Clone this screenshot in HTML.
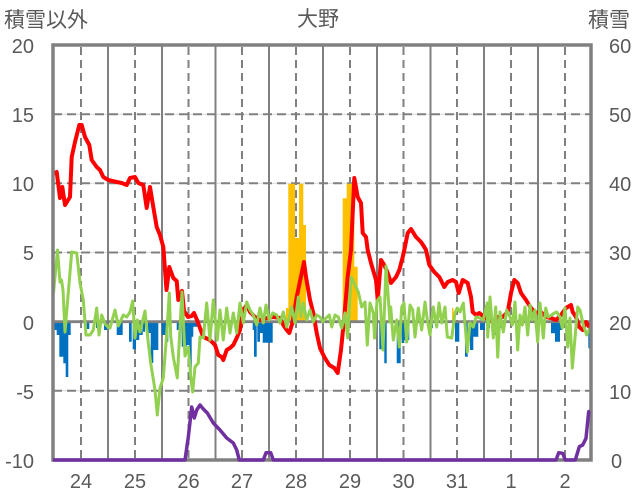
<!DOCTYPE html>
<html><head><meta charset="utf-8"><style>
html,body{margin:0;padding:0;background:#fff;}
svg{display:block;}
text{font-family:"Liberation Sans","Noto Sans CJK JP",sans-serif;fill:#595959;}
</style></head><body>
<svg width="636" height="501" viewBox="0 0 636 501" xmlns="http://www.w3.org/2000/svg">
<text x="4" y="27" font-size="21">積雪以外</text>
<text x="297" y="26" font-size="21">大野</text>
<text x="588" y="27" font-size="21">積雪</text>
<g font-size="20" text-anchor="end">
<text x="34" y="53">20</text><text x="34" y="122">15</text><text x="34" y="191">10</text>
<text x="34" y="260">5</text><text x="34" y="330">0</text><text x="34" y="399">-5</text><text x="34" y="468">-10</text>
</g>
<g font-size="20">
<text x="609" y="53">60</text><text x="609" y="122">50</text><text x="609" y="191">40</text>
<text x="609" y="260">30</text><text x="609" y="330">20</text><text x="609" y="399">10</text><text x="611" y="468">0</text>
</g>
<g font-size="20" text-anchor="middle">
<text x="81" y="488">24</text><text x="135" y="488">25</text><text x="188.5" y="488">26</text><text x="242" y="488">27</text><text x="296" y="488">28</text><text x="350" y="488">29</text><text x="403.5" y="488">30</text><text x="457" y="488">31</text><text x="511" y="488">1</text><text x="565" y="488">2</text>
</g>
<path d="M53 114.2H591M53 183.3H591M53 252.5H591M53 390.8H591" stroke="#d9d9d9" stroke-width="1" fill="none"/>
<path d="M53 114.2H591M53 183.3H591M53 252.5H591M53 390.8H591" stroke="#808080" stroke-width="2" stroke-dasharray="9 5" fill="none"/>
<path d="M108 45V460M162 45V460M215.5 45V460M269 45V460M323 45V460M377 45V460M430.5 45V460M484 45V460M538 45V460" stroke="#808080" stroke-width="2" fill="none"/>
<path d="M81 47V460M135 47V460M188.5 47V460M242 47V460M296 47V460M350 47V460M403.5 47V460M457 47V460M511 47V460M565 47V460" stroke="#808080" stroke-width="2" stroke-dasharray="8 5" fill="none"/>
<path fill="#FFC000" d="M286 321.7V308H288.3V183.7H295V238H299V183.7H303.3V225H306V321.7Z M342.7 321.7V198.3H346.7V183.7H354.3V266.7H357.7V321.7Z M452 321.7V308H453.5V321.7Z"/>
<path fill="#0070C0" d="M54 321.7V330H56.7V335H59.3V356.7H63.3V363.3H65.7V377H68.3V335H70.7V321.7Z M86.7 321.7V329H89.3V321.7Z M96 321.7V328H98.7V321.7Z M104 321.7V330H107V321.7Z M116.7 321.7V335H122.7V321.7Z M129 321.7V341.7H131.7V321.7Z M132.7 321.7V349.3H136V340H139.3V335H142.7V321.7Z M143 321.7V331.7H145V321.7Z M148 321.7V333H150.7V363H153.3V350H158.3V321.7Z M161.7 321.7V335H165V341.7H168.3V321.7Z M176.7 321.7V330H180V321.7Z M181.7 321.7V346.7H186.7V345H189.3V378H191.7V336.7H193.3V326.7H200V321.7Z M252.7 321.7V330H254V356.7H256.7V321.7Z M257.3 321.7V341.7H260V333H262.7V342.7H272.7V321.7Z M379.3 321.7V349.3H382.7V321.7Z M384.3 321.7V363.3H386.7V321.7Z M396.7 321.7V363.3H400.7V321.7Z M401.7 321.7V343H404.3V340H409.3V321.7Z M430 321.7V328H433V321.7Z M455 321.7V341.7H459.3V321.7Z M465 321.7V356.7H467.7V321.7Z M470 321.7V350H473.3V336.7H478.3V321.7Z M480 321.7V330H485V321.7Z M487.7 321.7V328H490V321.7Z M491.7 321.7V335H496V321.7Z M500 321.7V328H501.7V321.7Z M551 321.7V333.3H555V341.7H560V330H562.3V321.7Z M581.7 321.7V325H585V321.7Z M588.3 321.7V348.3H591.7V321.7Z"/>
<path d="M53 321.7H591" stroke="#808080" stroke-width="2.8"/>
<polyline fill="none" stroke="#FF0000" stroke-width="4" stroke-linejoin="round" stroke-linecap="round" points="55,173 56.7,172 60,198 62.3,187 65,205 70,197 71.7,157 75,142 79.3,125 81.7,125 85,137 89.3,145 91.7,160 96.7,167 100,170 103.3,177 108.3,180 116.7,182 121.7,183 126.7,185 130,178 135,177 138.3,183 143.3,185 146.7,208 150,187 153.3,207 156.7,227 160,235 163.3,247 166.5,290 169.3,267 173.3,278 176.7,281 178.3,300 182,291 184,311 188,317 191.7,316 194,313 197,320 200,328 203.3,337 210,340 215,345 218.3,355 221.7,357 223.3,360 226.7,350 230,348 233.3,345 236.7,338 240,330 243.3,310 246.7,305 250,312 255,317 260,320 266.7,318 273.3,317 280,318 283.3,325 286.7,330 289.3,333 292.7,322 296.7,297 301.7,273 304,262 306,277 310,300 313.3,313 316.7,333 320,348 324.3,357 329.3,365 334.3,368 337.7,373 341,350 344.3,317 347.7,277 351,250 354.3,178 357.7,197 361,203 362.7,233 366,237 367.7,250 371,263 376,280 377.7,300 381,260 384.3,265 387.7,273 391,283 396,277 399.3,270 402.7,257 404.3,250 407.7,233 411,229 416,237 421,242 424.3,247 426,250 429.3,265 434.3,272 439.3,277 444.3,287 447.7,282 452.7,280 456,282 458.7,293 462.7,280 467.7,283 471,297 472.7,312 476,315 479.3,313 484.3,317 489.3,320 492.7,322 497.7,317 502.7,317 507.7,312 511,293 514.3,280 517.7,283 521,293 526,300 531,308 536,313 541,312 546,317 551,318 556,320 561,315 566,308 571,305 572.7,312 576,317 579.3,327 582.7,330 586,322 589.3,327"/>
<polyline fill="none" stroke="#92D050" stroke-width="3" stroke-linejoin="round" points="53.5,293 57.5,250 60,282 61.5,280 63,290 65,332 71.7,252 76.7,253 80,283 83.3,300 86,335 90,335 93.3,330 96.7,308 99,335 101.7,315 105,324 108,327 110,328 115,310 118.3,326 123.3,315 126.7,317 130,312 132.7,301 135,338 137.3,320 140,332 145,311 148.3,343 150.7,363 155,390 157.3,415 160,388 163.3,378 166.7,334 169.3,293 170.7,336 173.3,357 177.3,378 180.7,315 182,292 185,356 188.3,347 190.7,377 192.7,392 195,367 198.3,363 200,337 203.3,338 206.7,303 210,340 213.3,300 217.3,340 220,310 223.3,340 226.7,308 230,333 233.3,313 236.7,333 240,303 243.3,323 246.7,302 250,310 253.3,315 256.7,325 260,308 263.3,323 266,305 269.3,320 272.7,313 276.7,315 280,323 283.3,312 286.7,327 291.7,307 295,323 298.3,297 301,317 303.3,303 306.7,320 310,310 313.3,322 316.7,315 320,317 323,322 326,318 329.3,315 331.7,327 335,315 338.3,317 341.7,328 345,313 347.7,338 351,277 355,285 358.3,292 361.7,307 365,302 367.3,345 370,303 373.3,313 374.5,338 377,301 380,297 383,350 386,266 390,322 390.7,307 393.3,340 396.7,320 399.3,347 401.7,307 404,303 406.7,342 410,305 412.7,310 415,337 418.3,308 421.7,330 425,302 427.3,320 430,335 433.3,307 436.7,327 439,303 441.7,323 445,307 447.3,337 451.7,338 455,313 457.3,308 460,312 463.3,303 467.3,352 470,323 473.3,327 476,317 480,318 483.3,320 487.3,303 487.7,337 490,297 493.3,338 495.7,307 497.7,357 500,312 503.3,332 506.7,310 510,317 512.3,325 515,302 517.7,350 520,315 522.3,325 525,307 527.7,335 530,305 532.3,320 535,310 537.7,342 540,303 543.3,338 545.7,308 548.3,317 551.7,315 554.3,313 556.7,312 560,317 562.3,328 565,308 567.7,347 570,318 572.3,368 575,338 577.7,307 580,310 583.3,325 586.7,335 590,328"/>
<rect x="53" y="45" width="538" height="415" fill="none" stroke="#808080" stroke-width="3.5"/>
<polyline fill="none" stroke="#7030A0" stroke-width="3.5" stroke-linejoin="round" points="53,460 185,460 188.3,437 191.7,407 194.3,418 196.7,410 200,405 203.3,409 207.3,413 213.3,423 220,430 226.7,438 233.3,443 236.7,450 239.3,460 263.3,460 266,452.7 270.7,452.7 273.3,460 556,460 558.7,452.7 562.7,453.3 565.3,460 575.3,460 579.3,446.7 582.7,445 586,438.3 588.7,411.7 590,411"/>
</svg>
</body></html>
